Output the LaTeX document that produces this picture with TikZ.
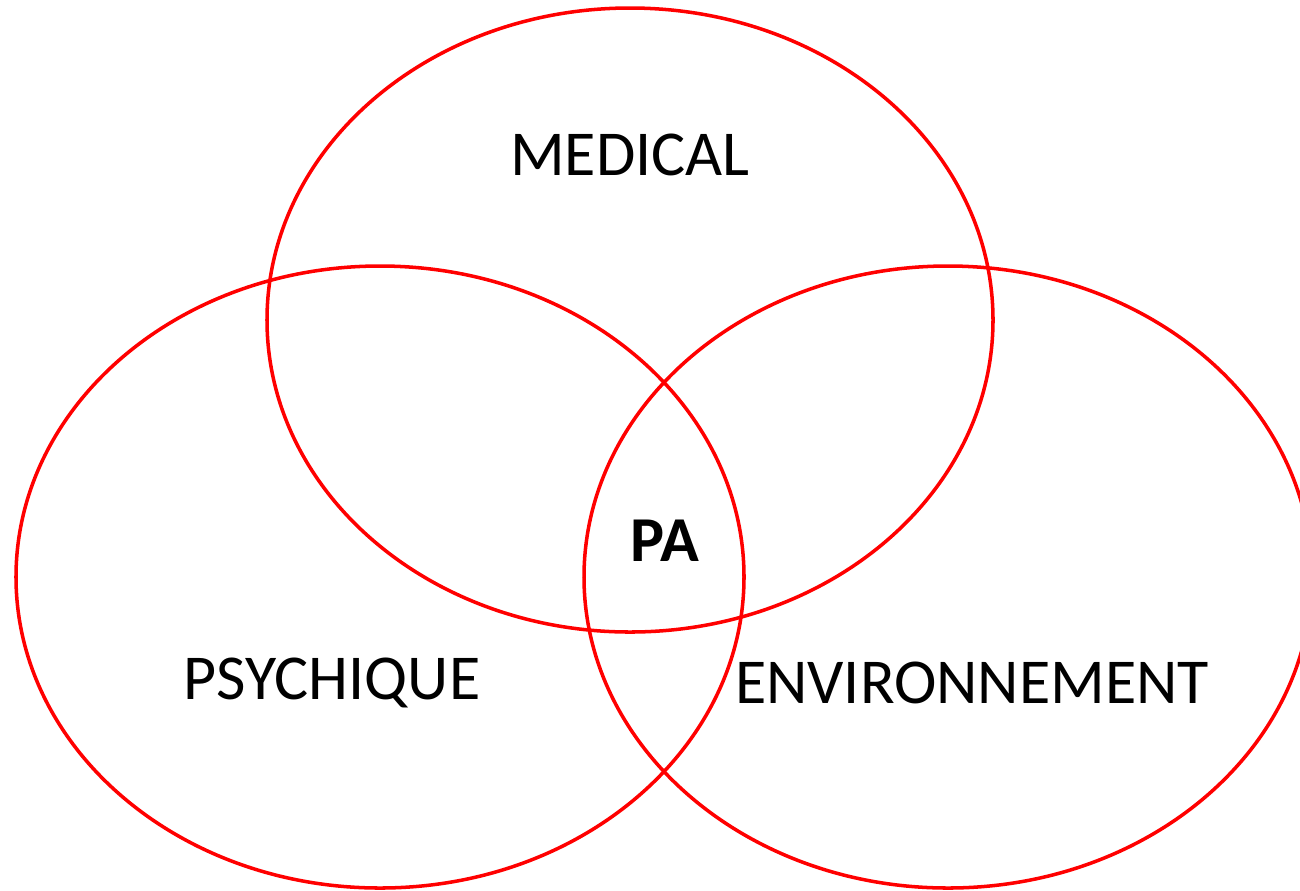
\documentclass[tikz,border=0pt]{standalone}
\usepackage{fontspec}
\setmainfont{Carlito}
\usetikzlibrary{positioning}

\begin{document}
\begin{tikzpicture}[x=0.01cm,y=-0.01cm,
    ring/.style={draw=red,line width=1pt},
    lbl/.style={font=\fontsize{18.2}{22}\selectfont,inner sep=0pt,anchor=center}]
  \useasboundingbox (0,0) rectangle (1300,890);
  \begin{scope}
    \clip (0,0) rectangle (1300,890);
    % three domains
    \draw[ring] (630,320) ellipse [x radius=363,y radius=312];
    \draw[ring] (380,577) ellipse [x radius=364,y radius=311];
    \draw[ring] (948,577) ellipse [x radius=364,y radius=311];
  \end{scope}

  \node[lbl] (medical) at (630,155) {MEDICAL};
  \node[lbl] (psy) at (332,683) {PSYCHIQUE};
  \node[lbl] (env) at (972,683) {ENVIRONNEMENT};
  \node[lbl,font=\fontsize{18.2}{22}\selectfont\bfseries] (pa) at (665,541) {PA};
\end{tikzpicture}
\end{document}
